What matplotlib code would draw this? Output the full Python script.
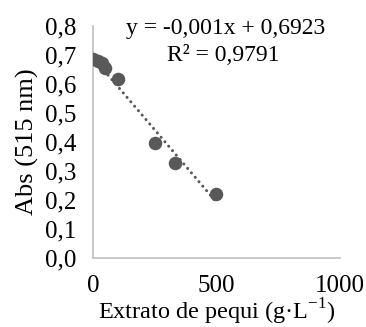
import matplotlib.pyplot as plt
import numpy as np

# data
extrato = np.array([0, 20, 35, 50, 100, 250, 333, 500])
absorb = np.array([0.686, 0.680, 0.672, 0.655, 0.619, 0.398, 0.329, 0.220])
slope, intercept = -0.001, 0.6923
eq_text = "y = -0,001x + 0,6923"
r2_text = "R² = 0,9791"

xticks = [0, 500, 1000]
yticks = [0.0, 0.1, 0.2, 0.3, 0.4, 0.5, 0.6, 0.7, 0.8]

plt.rcParams['font.family'] = ['Liberation Serif', 'DejaVu Serif']
plt.rcParams['font.size'] = 18

fig = plt.figure(figsize=(3.66, 3.27), dpi=100)
ax = fig.add_axes([0.254, 0.211, 0.675, 0.709])

gray = '#595959'
xl = np.array([extrato.min(), extrato.max()])
ax.plot(xl, slope * xl + intercept, color=gray, lw=2.2,
        linestyle=(0, (0.01, 1.9)), dash_capstyle='round', zorder=2)
ax.scatter(extrato, absorb, s=95, color=gray, zorder=3, linewidths=0)

ax.set_xlim(0, 1000)
ax.set_ylim(0, 0.8)
ax.set_xticks(xticks)
ax.set_xticklabels([str(t) for t in xticks])
ax.set_yticks(yticks)
ax.set_yticklabels([f"{t:.1f}".replace('.', ',') for t in yticks])
ax.tick_params(axis='y', length=0, pad=12)
ax.tick_params(axis='x', length=0, pad=12)

for s in ['top', 'right']:
    ax.spines[s].set_visible(False)
for s in ['left', 'bottom']:
    ax.spines[s].set_color('#BFBFBF')
    ax.spines[s].set_linewidth(1.2)

ax.set_xlabel("Extrato de pequi (g·L$^{\\mathregular{-1}}$)", fontsize=17.5, labelpad=0)
ax.set_ylabel("Abs (515 nm)", fontsize=19, labelpad=4)

ax.text(0.535, 0.99, eq_text, transform=ax.transAxes, ha='center', va='center', fontsize=17)
ax.text(0.527, 0.875, r2_text, transform=ax.transAxes, ha='center', va='center', fontsize=17)

fig.savefig('out.png', dpi=100)
